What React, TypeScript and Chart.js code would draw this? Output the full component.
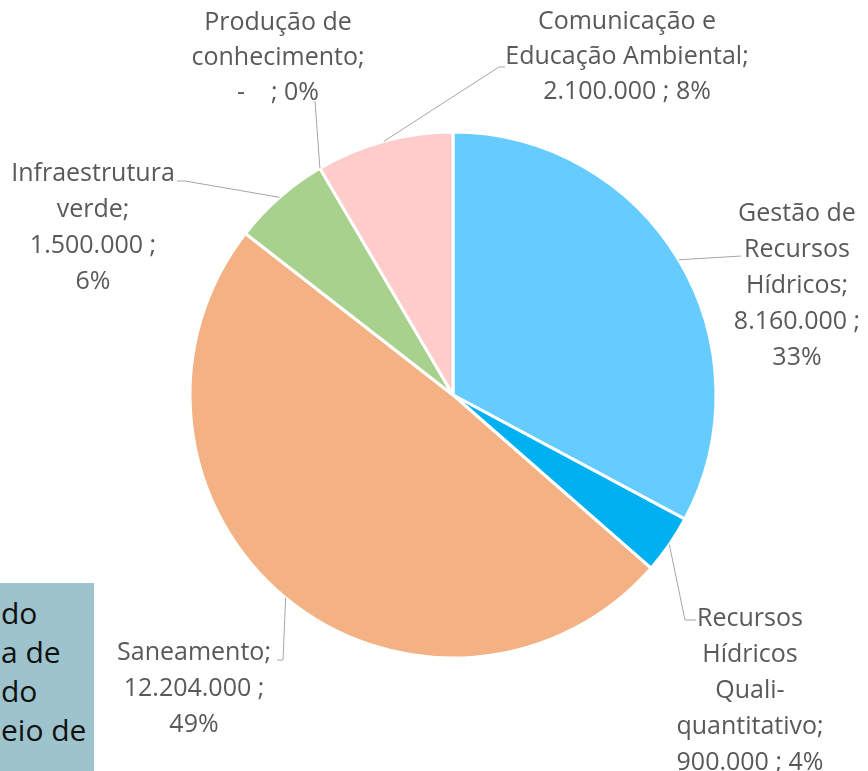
import React, { useEffect, useRef } from "react";
import { Chart, registerables } from "chart.js";

Chart.register(...registerables);

// ---- data ----
const categories = [
  "Gestão de Recursos Hídricos",
  "Recursos Hídricos Quali-quantitativo",
  "Saneamento",
  "Infraestrutura verde",
  "Produção de conhecimento",
  "Comunicação e Educação Ambiental",
];
const values = [8160000, 900000, 12204000, 1500000, 0, 2100000];
const colors = ["#66CCFF", "#00B0F0", "#F4B183", "#A9D18E", "#FFC000", "#FFCCCC"];

// label line templates ({v} = value, {p} = percent)
const labelLines = [
  ["Gestão de", "Recursos", "Hídricos;", "{v} ;", "{p}"],
  ["Recursos", "Hídricos", "Quali-", "quantitativo;", "{v} ; {p}"],
  ["Saneamento;", "{v} ;", "{p}"],
  ["Infraestrutura", "verde;", "{v} ;", "{p}"],
  ["Produção de", "conhecimento;", "{v} ; {p}"],
  ["Comunicação e", "Educação Ambiental;", "{v} ; {p}"],
];

// ---- layout (positions of the data labels and leader lines) ----
const LABEL_LAYOUT = [
  { x: 797, y: 214, lh: 36, leader: [[741, 256]] },
  { x: 750, y: 619, lh: 36, leader: [[685, 620], [696, 620]] },
  { x: 194, y: 653, lh: 36, leader: [[283, 660], [277, 660]] },
  { x: 93, y: 174, lh: 36, leader: [[185, 181], [177, 181]] },
  { x: 278, y: 23, lh: 35, leader: [[315, 101]] },
  { x: 627, y: 22, lh: 35, leader: [[499, 67], [505, 67]] },
];

const TEXT_COLOR = "#595959";
const LEADER_COLOR = "#A6A6A6";
const FONT = '25px "Open Sans"';

function fmtValue(v: number): string {
  if (v === 0) return "-   ";
  const s = Math.round(v).toString();
  return s.replace(/\B(?=(\d{3})+(?!\d))/g, ".");
}

const labelPlugin = {
  id: "pieLabels",
  afterDraw(chart: any) {
    const ctx = chart.ctx as CanvasRenderingContext2D;
    const meta = chart.getDatasetMeta(0);
    const data = chart.data.datasets[0].data as number[];
    const total = data.reduce((a, b) => a + b, 0);
    meta.data.forEach((arc: any, i: number) => {
      const L = LABEL_LAYOUT[i];
      const { x, y, startAngle, endAngle, outerRadius } = arc.getProps(
        ["x", "y", "startAngle", "endAngle", "outerRadius"],
        true
      );
      const mid = (startAngle + endAngle) / 2;
      const ax = x + Math.cos(mid) * outerRadius;
      const ay = y + Math.sin(mid) * outerRadius;
      ctx.save();
      ctx.strokeStyle = LEADER_COLOR;
      ctx.lineWidth = 1;
      ctx.beginPath();
      ctx.moveTo(ax, ay);
      L.leader.forEach(([px, py]) => ctx.lineTo(px, py));
      ctx.stroke();
      ctx.fillStyle = TEXT_COLOR;
      ctx.font = FONT;
      ctx.textAlign = "center";
      ctx.textBaseline = "middle";
      const pct = Math.round((data[i] / total) * 100) + "%";
      labelLines[i].forEach((t, k) => {
        const txt = t.replace("{v}", fmtValue(data[i])).replace("{p}", pct);
        ctx.fillText(txt, L.x, L.y + k * L.lh);
      });
      ctx.restore();
    });
  },
};

const boxLines = ["do", "a de", "do", "eio de"];

export default function App() {
  const ref = useRef<HTMLCanvasElement>(null);
  useEffect(() => {
    if (!ref.current) return;
    const chart = new Chart(ref.current, {
      type: "pie",
      data: {
        labels: categories,
        datasets: [
          {
            data: values,
            backgroundColor: colors,
            borderColor: "#FFFFFF",
            borderWidth: 3,
          },
        ],
      },
      options: {
        responsive: false,
        animation: false,
        radius: 263,
        layout: { padding: { left: 190, right: 152, top: 132, bottom: 113 } },
        plugins: {
          legend: { display: false },
          tooltip: { enabled: false },
        },
      } as any,
      plugins: [labelPlugin],
    });
    return () => chart.destroy();
  }, []);

  return (
    <div
      style={{
        position: "fixed",
        left: 0,
        top: 0,
        width: 868,
        height: 771,
        background: "#FFFFFF",
        overflow: "hidden",
      }}
    >
      <canvas ref={ref} width={868} height={771} style={{ position: "absolute", left: 0, top: 0 }} />
      <div
        style={{
          position: "absolute",
          left: 0,
          top: 583,
          width: 94,
          height: 188,
          background: "#9DC3CC",
          overflow: "hidden",
          fontFamily: '"Open Sans"',
          fontSize: 30,
          color: "#111111",
        }}
      >
        {boxLines.map((t, k) => (
          <div
            key={k}
            style={{
              position: "absolute",
              left: 1,
              top: 10 + k * 39,
              lineHeight: "40px",
              whiteSpace: "nowrap",
            }}
          >
            {t}
          </div>
        ))}
      </div>
    </div>
  );
}
